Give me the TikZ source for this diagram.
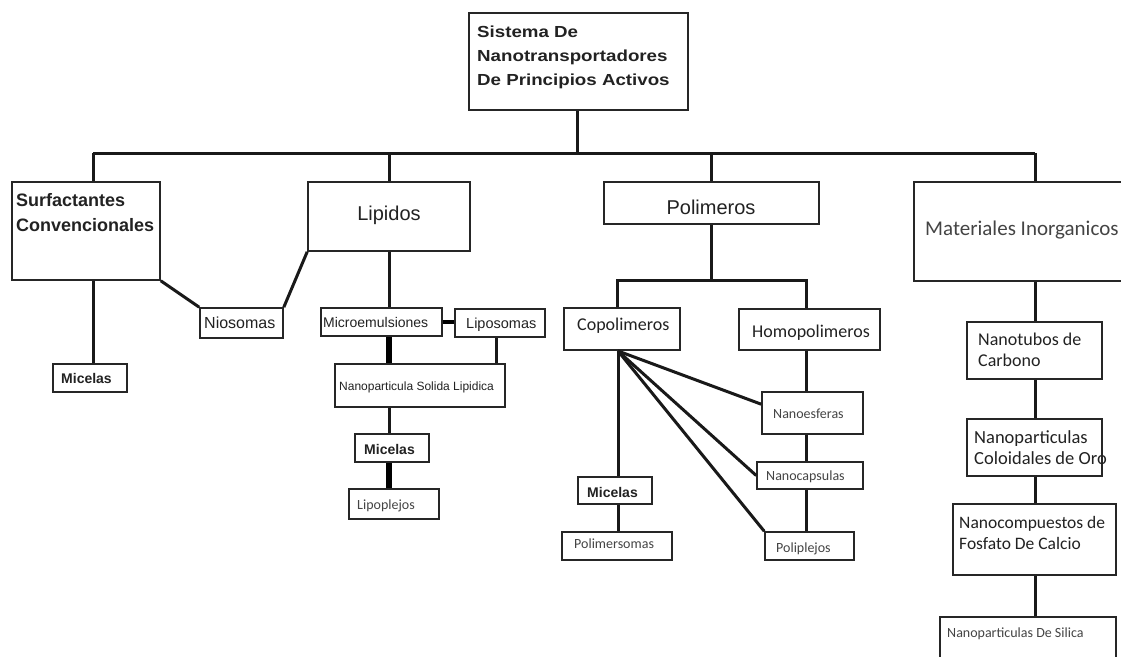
\documentclass[tikz,border=0pt]{standalone}
\usepackage{fontspec}
\usetikzlibrary{fit,calc}
\newfontfamily\fA{Liberation Sans}
\newfontfamily\fAS[FakeStretch=1.17]{Liberation Sans}
\newfontfamily\fC{Carlito}
\definecolor{ink}{HTML}{222222}
\definecolor{inkg}{HTML}{444444}
\begin{document}
\begin{tikzpicture}[x=1pt,y=-1pt,
  box/.style={draw=black!85,line width=1.6pt,inner sep=0pt},
  conn/.style={line width=3pt,draw=black!90},
  heavy/.style={line width=5.5pt,draw=black},
  mid/.style={line width=4pt,draw=black},
  txt/.style={anchor=base west,inner sep=0pt,text=ink},
  ctxt/.style={anchor=base,inner sep=0pt,text=ink}]
\useasboundingbox[fill=white] (0,0) rectangle (1121,656);
% boxes
\node[box,fit={(469,13) (688,110)}] (top) {};
\node[box,fit={(12,182) (160,280)}] (surf) {};
\node[box,fit={(308,182) (470,251)}] (lip) {};
\node[box,fit={(604,182) (819,224)}] (pol) {};
\node[box,fit={(914,182) (1140,281)}] (mat) {};
\node[box,fit={(53,364) (127,392)}] (mic1) {};
\node[box,fit={(200,308) (283,338)}] (nio) {};
\node[box,fit={(321,308) (442,336)}] (micro) {};
\node[box,fit={(455,309) (545,337)}] (lipo) {};
\node[box,fit={(335,364) (505,407)}] (nsl) {};
\node[box,fit={(355,434) (429,462)}] (mic2) {};
\node[box,fit={(349,489) (439,519)}] (lplx) {};
\node[box,fit={(564,308) (680,350)}] (copo) {};
\node[box,fit={(739,309) (880,350)}] (homo) {};
\node[box,fit={(762,392) (863,434)}] (nesf) {};
\node[box,fit={(757,462) (863,489)}] (ncap) {};
\node[box,fit={(765,532) (854,560)}] (polx) {};
\node[box,fit={(578,477) (652,504)}] (mic3) {};
\node[box,fit={(562,532) (672,560)}] (pmso) {};
\node[box,fit={(967,322) (1102,379)}] (ntub) {};
\node[box,fit={(967,419) (1102,476)}] (ncol) {};
\node[box,fit={(953,504) (1116,575)}] (ncmp) {};
\node[box,fit={(940,617) (1116,680)}] (nsil) {};
% texts
\node[txt] (t1) at (477,37) {\fAS\bfseries\fontsize{16}{20}\selectfont Sistema De};
\node[txt] (t2) at (477,61) {\fAS\bfseries\fontsize{16}{20}\selectfont Nanotransportadores};
\node[txt] (t3) at (477,85) {\fAS\bfseries\fontsize{16}{20}\selectfont De Principios Activos};
\node[txt] (t4) at (16,206) {\fA\bfseries\fontsize{18}{22}\selectfont Surfactantes};
\node[txt] (t5) at (16,231) {\fA\bfseries\fontsize{18}{22}\selectfont Convencionales};
\node[ctxt] (t6) at (389,220) {\fA\fontsize{20}{24}\selectfont Lipidos};
\node[ctxt] (t7) at (711,214) {\fA\fontsize{20}{24}\selectfont Polimeros};
\node[txt,text=inkg] (t8) at (925,235) {\fC\fontsize{21}{25}\selectfont Materiales Inorganicos};
\node[txt] (t9) at (204,328) {\fA\fontsize{16}{20}\selectfont Niosomas};
\node[txt] (t10) at (61,383) {\fA\bfseries\fontsize{14}{17}\selectfont Micelas};
\node[txt] (t11) at (323,327) {\fA\fontsize{14}{17}\selectfont Microemulsiones};
\node[txt] (t12) at (466,328) {\fA\fontsize{14.5}{17}\selectfont Liposomas};
\node[txt] (t13) at (339,390) {\fA\fontsize{12}{15}\selectfont Nanoparticula Solida Lipidica};
\node[txt] (t14) at (364,454) {\fA\bfseries\fontsize{14}{17}\selectfont Micelas};
\node[txt,text=inkg] (t15) at (357,509) {\fC\fontsize{14}{17}\selectfont Lipoplejos};
\node[txt] (t16) at (577,330) {\fC\fontsize{18}{22}\selectfont Copolimeros};
\node[txt] (t17) at (752,337) {\fC\fontsize{18}{22}\selectfont Homopolimeros};
\node[txt,text=inkg] (t18) at (773,418) {\fC\fontsize{14}{17}\selectfont Nanoesferas};
\node[txt,text=inkg] (t19) at (766,480) {\fC\fontsize{14}{17}\selectfont Nanocapsulas};
\node[txt,text=inkg] (t20) at (776,552) {\fC\fontsize{14}{17}\selectfont Poliplejos};
\node[txt] (t21) at (587,497) {\fA\bfseries\fontsize{14}{17}\selectfont Micelas};
\node[txt,text=inkg] (t22) at (574,548) {\fC\fontsize{14}{17}\selectfont Polimersomas};
\node[txt] (t23) at (978,345) {\fC\fontsize{18}{22}\selectfont Nanotubos de};
\node[txt] (t24) at (978,366) {\fC\fontsize{18}{22}\selectfont Carbono};
\node[txt] (t25) at (974,443) {\fC\fontsize{18.5}{22}\selectfont Nanoparticulas};
\node[txt] (t26) at (974,464) {\fC\fontsize{18.5}{22}\selectfont Coloidales de Oro};
\node[txt] (t27) at (959,528) {\fC\fontsize{17.5}{22}\selectfont Nanocompuestos de};
\node[txt] (t28) at (959,549) {\fC\fontsize{17.5}{22}\selectfont Fosfato De Calcio};
\node[txt,text=inkg] (t29) at (947,637) {\fC\fontsize{14}{17}\selectfont Nanoparticulas De Silica};
% connectors: main bus
\coordinate (bus) at (577,153);
\coordinate (bL) at (93,153);
\coordinate (bR) at (1035,153);
\draw[conn] (bus |- top.south) -- (bus);
\draw[conn] (bL) -- (bR);
\draw[conn] (bL) -- (bL |- surf.north);
\draw[conn] (lip.north |- bL) -- (lip.north);
\draw[conn] (pol.north |- bL) -- (pol.north);
\draw[conn] (bR) -- (bR |- mat.north);
% surfactantes
\draw[conn] (bL |- surf.south) -- (bL |- mic1.north);
\draw[conn] (surf.south east) -- (nio.north west);
\draw[conn] (lip.south west) -- (nio.north east);
% lipidos
\draw[conn] (lip.south) -- (lip.south |- micro.north);
\draw[mid] (micro.east) -- (micro.east -| lipo.west);
\draw[heavy] (lip.south |- micro.south) -- (lip.south |- nsl.north);
\coordinate (lpx) at (496,0);
\draw[conn] (lpx |- lipo.south) -- (lpx |- nsl.north);
\draw[conn] (lip.south |- nsl.south) -- (lip.south |- mic2.north);
\draw[heavy] (lip.south |- mic2.south) -- (lip.south |- lplx.north);
% polimeros
\coordinate (pbus) at (712,280);
\coordinate (cpx) at (617,280);
\coordinate (hpx) at (806,280);
\draw[conn] (pol.south) -- (pol.south |- pbus);
\draw[conn] (cpx |- copo.north) -- (cpx) -- (hpx) -- (hpx |- homo.north);
\coordinate (fan) at (618,351);
\draw[conn] (fan) -- ($(nesf.north west)+(0,13)$);
\draw[conn] (fan) -- (ncap.west);
\draw[conn] (fan) -- (polx.north west);
\draw[conn] (fan) -- (fan |- mic3.north);
\draw[conn] (fan |- mic3.south) -- (fan |- pmso.north);
\draw[conn] (hpx |- homo.south) -- (hpx |- nesf.north);
\draw[conn] (hpx |- nesf.south) -- (hpx |- ncap.north);
\draw[conn] (hpx |- ncap.south) -- (hpx |- polx.north);
% materiales
\draw[conn] (bR |- mat.south) -- (bR |- ntub.north);
\draw[conn] (bR |- ntub.south) -- (bR |- ncol.north);
\draw[conn] (bR |- ncol.south) -- (bR |- ncmp.north);
\draw[conn] (bR |- ncmp.south) -- (bR |- nsil.north);
\end{tikzpicture}
\end{document}
